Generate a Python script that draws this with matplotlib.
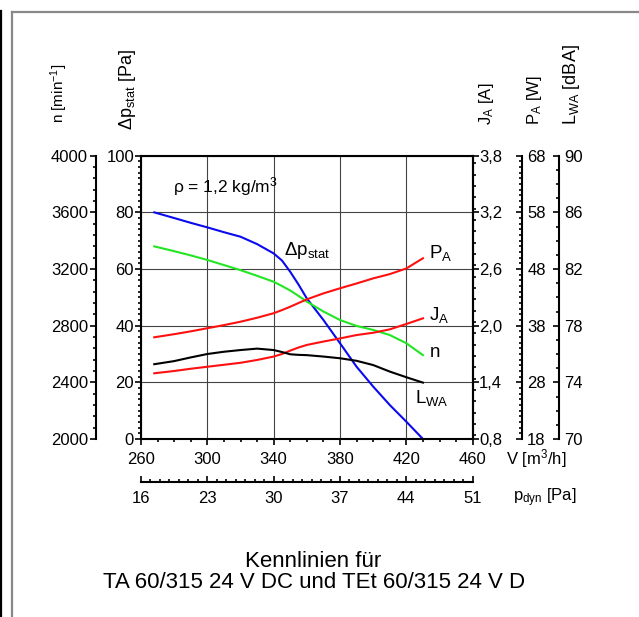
import matplotlib
matplotlib.use("Agg")
import matplotlib.pyplot as plt
from matplotlib.lines import Line2D
from matplotlib.ticker import MultipleLocator


# -----------------------------
# Data
# -----------------------------
V = [268, 280, 290, 300, 310, 320, 330, 340, 345, 350, 355, 360, 370, 380, 390, 400, 410,
     420, 430]

DP_STAT = [80, 78, 76.3, 74.7, 73, 71.4, 68.8, 65.5, 63, 59, 54.5, 49.6, 42, 33.8, 25.5,
           18.5, 12, 6.1, 0]
N_RPM = [3360, 3326, 3296, 3264, 3228, 3192, 3152, 3110, 3080, 3048, 3010, 2970, 2900, 2840,
         2798, 2770, 2734, 2676, 2592]
P_A = [35.95, 36.5, 37.0, 37.55, 38.1, 38.7, 39.4, 40.2, 40.75, 41.35, 42.0, 42.65, 43.7,
       44.6, 45.45, 46.35, 47.1, 48.1, 49.9]
J_A = [1.496, 1.52, 1.544, 1.565, 1.586, 1.607, 1.637, 1.673, 1.70, 1.736, 1.769, 1.796,
       1.832, 1.865, 1.901, 1.925, 1.961, 2.018, 2.078]
L_WA = [75.28, 75.5, 75.76, 76.0, 76.16, 76.28, 76.38, 76.28, 76.14, 75.98, 75.94, 75.92,
        75.82, 75.7, 75.52, 75.22, 74.76, 74.36, 73.98]

V_TICKS = [260, 300, 340, 380, 420, 460]
PDYN_TICKS = [16, 23, 30, 37, 44, 51]
DP_TICKS = [0, 20, 40, 60, 80, 100]
N_TICKS = [2000, 2400, 2800, 3200, 3600, 4000]
J_TICKS = [0.8, 1.4, 2.0, 2.6, 3.2, 3.8]
J_LABELS = ["0,8", "1,4", "2,0", "2,6", "3,2", "3,8"]
P_TICKS = [18, 28, 38, 48, 58, 68]
L_TICKS = [70, 74, 78, 82, 86, 90]


# -----------------------------
# Settings
# -----------------------------
W, H = 639, 617
FS = 12          # tick labels, horizontal texts
FS_CURVE = 13.5
FS_TITLE = 16
LW_CURVE = 1.5
LW_SPINE = 1.5

plt.rcParams["font.family"] = ["Liberation Sans", "DejaVu Sans"]
plt.rcParams["mathtext.fontset"] = "custom"
plt.rcParams["mathtext.rm"] = "Liberation Sans"
plt.rcParams["mathtext.it"] = "Liberation Sans"
plt.rcParams["mathtext.bf"] = "Liberation Sans:bold"


def px_x(x):
    return x / W


def px_y(y):
    return 1 - y / H


def only_spine(a, name):
    for key, sp in a.spines.items():
        sp.set_visible(key == name)
    a.spines[name].set_linewidth(LW_SPINE)


def style_ticks(a, axis, direction, pad):
    a.tick_params(axis=axis, which="major", direction=direction, length=4.5, width=1.2,
                  labelsize=FS, pad=pad)
    a.tick_params(axis=axis, which="minor", direction=direction, length=2.4, width=1.2)


# -----------------------------
# Plotting
# -----------------------------
def plot_chart():
    fig = plt.figure(figsize=(W / 100, H / 100), dpi=100)
    ax = fig.add_axes([px_x(141), px_y(439), (472.7 - 141) / W, (439 - 155.7) / H])

    # main axis: volume flow and static pressure
    ax.set_xlim(260, 460)
    ax.set_ylim(0, 100)
    ax.set_xticks(V_TICKS)
    ax.set_yticks(DP_TICKS)
    ax.xaxis.set_minor_locator(MultipleLocator(10))
    ax.yaxis.set_minor_locator(MultipleLocator(2))
    ax.grid(True, which="major", color="#444444", lw=0.8)
    ax.set_axisbelow(True)
    for sp in ax.spines.values():
        sp.set_linewidth(LW_SPINE)
    ax.tick_params(right=False, top=False, which="both")
    style_ticks(ax, "y", "out", 0.5)
    style_ticks(ax, "x", "out", 5)
    ax.plot(V, DP_STAT, color="#0a0aee", lw=LW_CURVE)

    # n axis on the far left
    ax_n = ax.twinx()
    only_spine(ax_n, "left")
    ax_n.spines["left"].set_position(("axes", -0.1366))
    ax_n.yaxis.set_ticks_position("left")
    ax_n.set_ylim(2000, 4000)
    ax_n.set_yticks(N_TICKS)
    ax_n.yaxis.set_minor_locator(MultipleLocator(80))
    style_ticks(ax_n, "y", "out", 1)
    ax_n.plot(V, N_RPM, color="#22e622", lw=LW_CURVE)

    # J_A on the right spine
    ax_j = ax.twinx()
    only_spine(ax_j, "right")
    ax_j.set_ylim(0.8, 3.8)
    ax_j.set_yticks(J_TICKS, J_LABELS)
    ax_j.yaxis.set_minor_locator(MultipleLocator(0.12))
    style_ticks(ax_j, "y", "out", 0)
    ax_j.plot(V, J_A, color="#ff1010", lw=LW_CURVE)

    # P_A axis
    ax_p = ax.twinx()
    only_spine(ax_p, "right")
    ax_p.spines["right"].set_position(("axes", 1.1495))
    ax_p.set_ylim(18, 68)
    ax_p.set_yticks(P_TICKS)
    ax_p.yaxis.set_minor_locator(MultipleLocator(1))
    style_ticks(ax_p, "y", "in", 3.5)
    ax_p.plot(V, P_A, color="#ff1010", lw=LW_CURVE)

    # L_WA axis
    ax_l = ax.twinx()
    only_spine(ax_l, "right")
    ax_l.spines["right"].set_position(("axes", 1.2602))
    ax_l.set_ylim(70, 90)
    ax_l.set_yticks(L_TICKS)
    ax_l.yaxis.set_minor_locator(MultipleLocator(1))
    style_ticks(ax_l, "y", "in", 3.5)
    ax_l.plot(V, L_WA, color="black", lw=LW_CURVE)

    # dynamic pressure axis below
    ax_d = ax.twiny()
    only_spine(ax_d, "bottom")
    ax_d.spines["bottom"].set_position(("axes", -0.1507))
    ax_d.xaxis.set_ticks_position("bottom")
    ax_d.set_xlim(16, 51)
    ax_d.set_xticks(PDYN_TICKS)
    ax_d.xaxis.set_minor_locator(MultipleLocator(1))
    style_ticks(ax_d, "x", "in", 7)

    # curve labels
    ax.text(279, 89, r"ρ = 1,2 kg/m$^3$", fontsize=FS + 0.5, va="center", ha="left")
    ax.text(346.5, 66.5, r"Δp$_{\mathrm{stat}}$", fontsize=FS_CURVE, va="center", ha="left")
    ax.text(433.5, 65.6, r"P$_{\mathrm{A}}$", fontsize=FS_CURVE, va="center", ha="left")
    ax.text(433.5, 43.8, r"J$_{\mathrm{A}}$", fontsize=FS_CURVE, va="center", ha="left")
    ax.text(434, 30.4, "n", fontsize=FS_CURVE, va="center", ha="left")
    ax.text(425.5, 14.5, r"L$_{\mathrm{WA}}$", fontsize=FS_CURVE, va="center", ha="left")

    # axis titles
    fig.text(px_x(59), px_y(123), r"n [min$^{-1}$]", rotation=90, ha="center", va="bottom",
             fontsize=11)
    fig.text(px_x(127), px_y(130), r"Δp$_{\mathrm{stat}}$ [Pa]", rotation=90, ha="center",
             va="bottom", fontsize=13)
    fig.text(px_x(487), px_y(125), r"J$_{\mathrm{A}}$ [A]", rotation=90, ha="center",
             va="bottom", fontsize=12)
    fig.text(px_x(535), px_y(125), r"P$_{\mathrm{A}}$ [W]", rotation=90, ha="center",
             va="bottom", fontsize=12)
    fig.text(px_x(571), px_y(125), r"L$_{\mathrm{WA}}$ [dBA]", rotation=90, ha="center",
             va="bottom", fontsize=13)
    fig.text(px_x(506), px_y(459), r"V [m$^3$/h]", ha="left", va="center", fontsize=FS)
    fig.text(px_x(513), px_y(498), r"p$_{\mathrm{dyn}}$ [Pa]", ha="left", va="center",
             fontsize=FS)

    # chart title
    fig.text(px_x(313), px_y(566.7), "Kennlinien für", ha="center", va="baseline",
             fontsize=FS_TITLE)
    fig.text(px_x(314), px_y(588.3), "TA 60/315 24 V DC und TEt 60/315 24 V D",
             ha="center", va="baseline", fontsize=FS_TITLE)

    # page frame
    fig.add_artist(Line2D([px_x(12), px_x(12)], [px_y(12), 0], transform=fig.transFigure,
                          color="#888888", lw=1.6))
    fig.add_artist(Line2D([px_x(12), 1], [px_y(12), px_y(12)], transform=fig.transFigure,
                          color="#888888", lw=1.6))
    fig.add_artist(Line2D([px_x(1), px_x(1)], [px_y(11), 0], transform=fig.transFigure,
                          color="black", lw=1.6))

    fig.savefig("out.png", dpi=100)


if __name__ == "__main__":
    plot_chart()
